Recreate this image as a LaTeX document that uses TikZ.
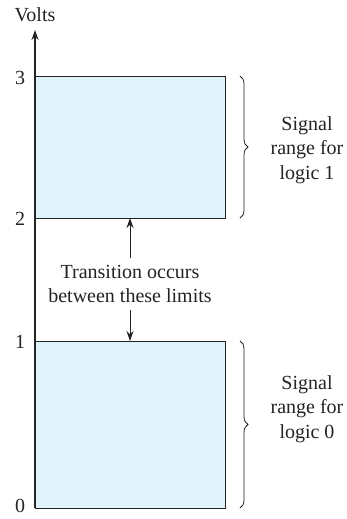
\documentclass[tikz,border=0pt]{standalone}
\usepackage{fontspec}
\setmainfont{Liberation Serif}
\usetikzlibrary{arrows.meta,decorations.pathreplacing}
\definecolor{boxfill}{RGB}{224,243,250}
\definecolor{ink}{RGB}{35,35,35}
\begin{document}
\begin{tikzpicture}[x=1pt,y=-1pt,
  every node/.style={font=\fontsize{20}{24.5}\selectfont, text=ink},
  band/.style={draw=ink, line width=1.3pt, fill=boxfill},
  tick/.style={anchor=center},
  brc/.style={draw=ink, line width=0.8pt, decorate, decoration={brace, amplitude=8pt}},
  lbl/.style={align=center, inner sep=0pt},
  arr/.style={draw=ink, line width=1pt, -{Stealth[length=10pt,width=7pt]}}]
\useasboundingbox (0,0) rectangle (346,519);
% boxes
\node[band, minimum width=190pt, minimum height=142pt, inner sep=0pt, anchor=north west] (hi) at (35,76) {};
\node[band, minimum width=190pt, minimum height=167pt, inner sep=0pt, anchor=north west] (lo) at (35,341) {};
% axis
\coordinate (origin) at (35,508);
\coordinate (top) at (35,30);
\draw[arr, line width=1.2pt] (origin) -- (top);
\node[lbl] (volts) at (35,15) {Volts};
% ticks
\node[tick] (t3) at (20,78) {3};
\node[tick] (t2) at (20,219) {2};
\node[tick] (t1) at (20,342) {1};
\node[tick] (t0) at (20,506) {0};
% transition text
\node[lbl] (trans) at (130,284) {Transition occurs\\between these limits};
\coordinate (hiB) at (130,218);
\coordinate (loT) at (130,341);
\draw[arr] (130,258) -- (hiB);
\draw[arr] (130,310) -- (loT);
% braces
\draw[brc] (240,76) -- (240,218) coordinate[midway] (b1);
\draw[brc] (240,341) -- (240,508) coordinate[midway] (b0);
\node[lbl] (s1) at (307,150) {Signal\\range for\\logic 1};
\node[lbl] (s0) at (307,409) {Signal\\range for\\logic 0};
\end{tikzpicture}
\end{document}
